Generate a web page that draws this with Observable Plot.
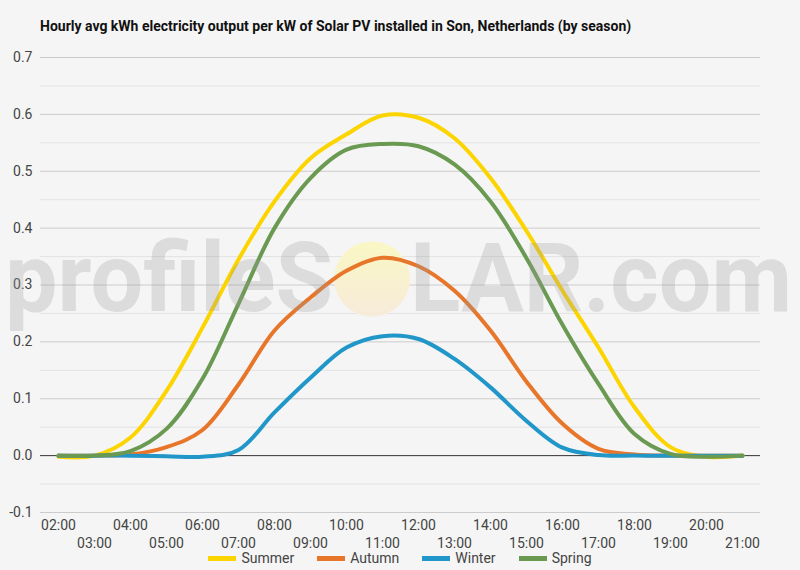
<!DOCTYPE html>
<html><head><meta charset="utf-8">
<script src="https://cdn.jsdelivr.net/npm/d3@7"></script>
<script src="https://cdn.jsdelivr.net/npm/@observablehq/plot@0.6"></script>
<style>
html,body{margin:0;padding:0;background:#f5f5f5;font-family:Roboto,sans-serif;}
#wrap{position:relative;width:800px;height:570px;overflow:hidden;}
#title{position:absolute;left:40px;top:18px;font-weight:bold;font-size:14px;color:#111;white-space:nowrap;}
#chart{position:absolute;left:0;top:40px;}
#legend{position:absolute;left:0;top:549px;width:800px;display:flex;justify-content:center;gap:23px;font-size:14px;color:#444;line-height:18px;}
.item{display:flex;align-items:center;gap:5px;}
.sw{width:28px;height:5px;display:inline-block;}
</style>
</head><body>
<div id="wrap">
  <div id="title">Hourly avg kWh electricity output per kW of Solar PV installed in Son, Netherlands (by season)</div>
  <div id="chart"></div>
  <div id="legend"></div>
</div>
<script>
const hours = ["02:00","03:00","04:00","05:00","06:00","07:00","08:00","09:00","10:00","11:00","12:00","13:00","14:00","15:00","16:00","17:00","18:00","19:00","20:00","21:00"];
const seasons = ["Summer","Autumn","Winter","Spring"];
const colors = ["#fcd400","#e8762a","#2196c8","#6a9a52"];
const summer = [-0.002,0.0,0.032,0.114,0.225,0.345,0.447,0.523,0.565,0.598,0.594,0.558,0.488,0.395,0.29,0.19,0.085,0.015,-0.002,0];
const autumn = [0,0,0.002,0.015,0.045,0.125,0.22,0.278,0.325,0.348,0.333,0.29,0.22,0.13,0.056,0.012,0.002,0,0,0];
const winter = [0,0,0,-0.001,-0.002,0.01,0.076,0.137,0.19,0.21,0.205,0.17,0.12,0.061,0.014,0.001,0,0,0,0];
const spring = [0,0,0.008,0.047,0.135,0.267,0.40,0.488,0.538,0.548,0.544,0.512,0.447,0.347,0.23,0.126,0.038,0.003,-0.002,0];
const majorTicks = [-0.1,0,0.1,0.2,0.3,0.4,0.5,0.6,0.7];
const minorTicks = [-0.05,0.05,0.15,0.25,0.35,0.45,0.55,0.65];

const seriesValues = [summer, autumn, winter, spring];
const data = seasons.flatMap((s, k) => seriesValues[k].map((v, i) => ({hour: hours[i], value: v, season: s})));
const evenHours = hours.filter((d, i) => i % 2 === 0);
const oddHours = hours.filter((d, i) => i % 2 === 1);

// sun disc of the watermark, drawn behind the lines
function sunMark() {
  const g = d3.create("svg:g");
  const grad = g.append("defs").append("linearGradient").attr("id","sunGrad")
    .attr("x1",0).attr("y1",0).attr("x2",0).attr("y2",1);
  grad.append("stop").attr("offset","0%").attr("stop-color","#faf7c4");
  grad.append("stop").attr("offset","100%").attr("stop-color","#f7ebda");
  g.append("ellipse").attr("cx",372).attr("cy",239).attr("rx",38).attr("ry",37.5).attr("fill","url(#sunGrad)");
  return g.node();
}

const chart = Plot.plot({
  width: 800, height: 510,
  marginLeft: 40, marginRight: 40, marginTop: 17, marginBottom: 38,
  style: {background: "transparent", fontFamily: "Roboto, sans-serif", fontSize: "14px", color: "#444"},
  x: {type: "point", domain: hours, padding: 0.5},
  y: {domain: [-0.1, 0.7]},
  color: {domain: seasons, range: colors},
  marks: [
    Plot.ruleY(minorTicks, {stroke: "#e3e3e3", strokeWidth: 1}),
    Plot.ruleY(majorTicks.filter(d => d !== 0), {stroke: "#cccccc", strokeWidth: 1}),
    Plot.ruleY([0], {stroke: "#333", strokeWidth: 1}),
    Plot.axisY({ticks: majorTicks, tickFormat: d => d.toFixed(1), tickSize: 0, tickPadding: 8, label: null}),
    Plot.axisX({ticks: evenHours, tickSize: 0, tickPadding: 8, label: null}),
    Plot.axisX({ticks: oddHours, tickSize: 0, tickPadding: 26, label: null}),
    sunMark,
    Plot.lineY(data, {x: "hour", y: "value", stroke: "season", strokeWidth: 4, curve: "catmull-rom"})
  ]
});
document.getElementById("chart").appendChild(chart);

// watermark text, semi-transparent on top
const svg = d3.select(chart);
const wm = svg.append("g").attr("pointer-events","none").attr("text-anchor","start");
wm.append("text").attr("x",5).attr("y",271).attr("font-size",96).attr("font-weight",700)
  .attr("text-anchor","start")
  .attr("font-family","Roboto, sans-serif").attr("fill","#999").attr("fill-opacity",0.28)
  .attr("textLength",328).attr("lengthAdjust","spacingAndGlyphs").text("profileS");
wm.append("text").attr("x",410).attr("y",271).attr("font-size",96).attr("font-weight",700)
  .attr("text-anchor","start")
  .attr("font-family","Roboto, sans-serif").attr("fill","#999").attr("fill-opacity",0.28)
  .attr("textLength",382).attr("lengthAdjust","spacingAndGlyphs").text("LAR.com");

// legend
const legend = document.getElementById("legend");
seasons.forEach((s, i) => {
  const it = document.createElement("div"); it.className = "item";
  const sw = document.createElement("span"); sw.className = "sw"; sw.style.background = colors[i];
  const t = document.createElement("span"); t.textContent = s;
  it.appendChild(sw); it.appendChild(t); legend.appendChild(it);
});
</script>
</body></html>
